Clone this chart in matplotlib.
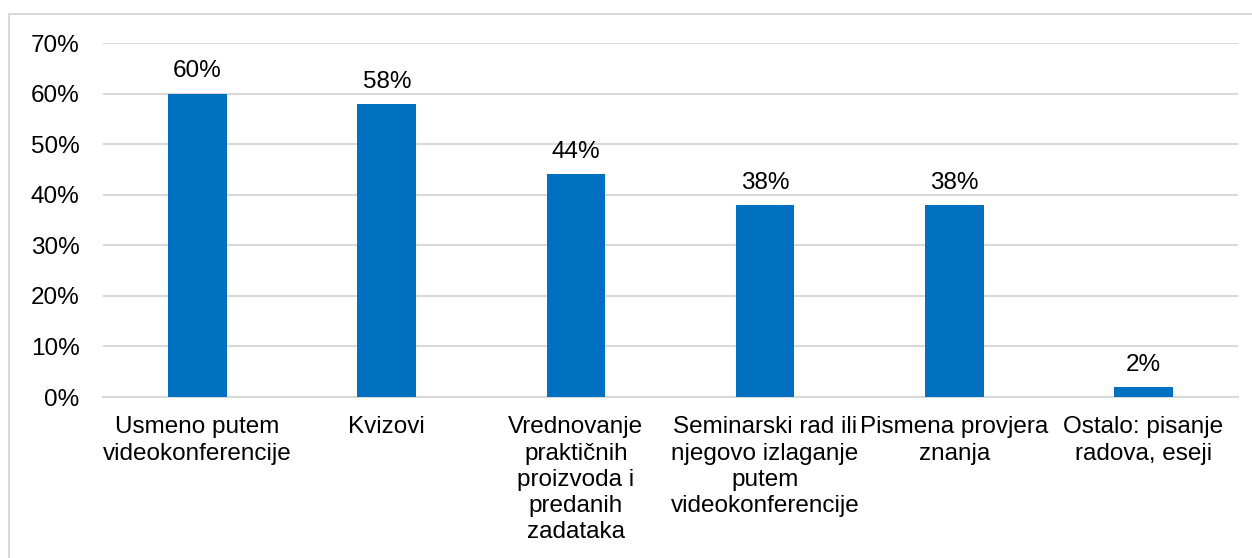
import matplotlib
matplotlib.use("Agg")
import matplotlib.pyplot as plt
from matplotlib.patches import Rectangle
from matplotlib.ticker import PercentFormatter

# Data
categories = [
    "Usmeno putem\nvideokonferencije",
    "Kvizovi",
    "Vrednovanje\npraktičnih\nproizvoda i\npredanih\nzadataka",
    "Seminarski rad ili\nnjegovo izlaganje\nputem\nvideokonferencije",
    "Pismena provjera\nznanja",
    "Ostalo: pisanje\nradova, eseji",
]
values = [60, 58, 44, 38, 38, 2]
y_ticks = [0, 10, 20, 30, 40, 50, 60, 70]

plt.rcParams['font.family'] = ['Liberation Sans', 'DejaVu Sans']
FS = 17.5

fig = plt.figure(figsize=(12.52, 5.58), dpi=100)
ax = fig.add_axes([103 / 1252, 1 - 397 / 558, (1238 - 103) / 1252, (397 - 43) / 558])

# Chart area border (runs off the right and bottom of the image)
fig.patches.append(Rectangle((9 / 1252, -0.1), 1.2, 1 - 14 / 558 + 0.1,
                             transform=fig.transFigure, fill=False,
                             edgecolor='#D9D9D9', linewidth=1.5))

x = range(len(categories))
bars = ax.bar(x, values, width=0.31, color='#0070C0', zorder=3)

for b, v in zip(bars, values):
    ax.annotate(f"{v}%", (b.get_x() + b.get_width() / 2, v),
                xytext=(0, 8), textcoords='offset points',
                ha='center', va='bottom', fontsize=FS, color='#000000')

ax.set_xlim(-0.5, len(categories) - 0.5)
ax.set_ylim(0, 70)
ax.set_yticks(y_ticks)
ax.yaxis.set_major_formatter(PercentFormatter(decimals=0))
ax.set_xticks(list(x))
ax.set_xticklabels(categories, fontsize=FS, linespacing=1.24)
ax.tick_params(axis='y', labelsize=FS, length=0, pad=17)
ax.tick_params(axis='x', length=0, pad=14)

ax.grid(axis='y', color='#D9D9D9', linewidth=1.5, zorder=0)
for s in ['top', 'right', 'left']:
    ax.spines[s].set_visible(False)
ax.spines['bottom'].set_color('#D9D9D9')
ax.spines['bottom'].set_linewidth(1.5)

fig.savefig('out.png', dpi=100)
